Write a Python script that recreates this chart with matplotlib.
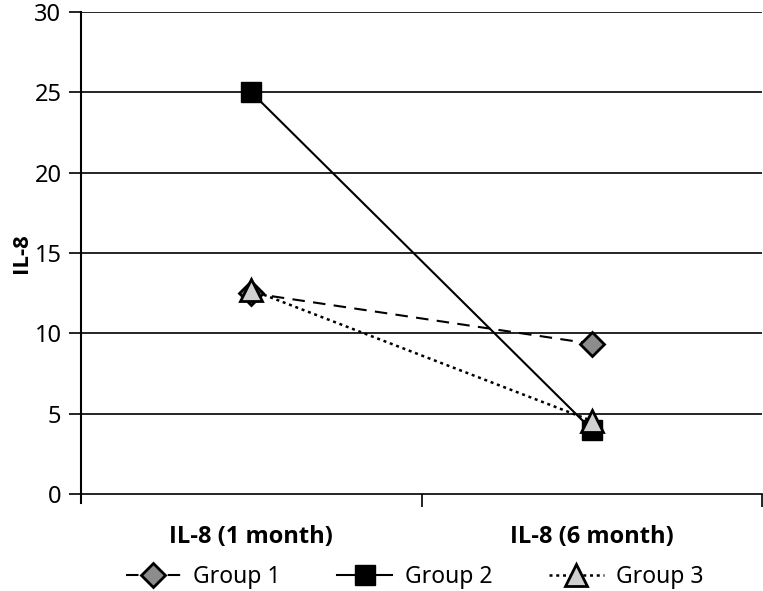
import numpy as np
import matplotlib
matplotlib.use('Agg')
import matplotlib.pyplot as plt

plt.rcParams['font.family'] = ['Noto Sans', 'DejaVu Sans']
bold_font = ['Open Sans', 'DejaVu Sans']

categories = ['IL-8 (1 month)', 'IL-8 (6 month)']
group1 = [12.5, 9.35]
group2 = [25.0, 4.0]
group3 = [12.7, 4.55]
yticks = [0, 5, 10, 15, 20, 25, 30]

fig = plt.figure(figsize=(7.63, 5.91), dpi=100)
ax = fig.add_axes([0.106, 0.164, 0.893, 0.816])

x = np.arange(len(categories))

for yv in yticks[1:]:
    ax.axhline(yv, color='black', lw=1.2, zorder=1)

ax.plot(x, group1, ls=(0, (6, 4)), color='black', lw=1.5, marker='D', ms=12,
        mfc='#8c8c8c', mec='black', mew=2, label='Group 1', zorder=3)
ax.plot(x, group2, ls='-', color='black', lw=1.5, marker='s', ms=15,
        mfc='black', mec='black', label='Group 2', zorder=4)
ax.plot(x, group3, ls=(0, (1.2, 1.5)), color='black', lw=1.8, marker='^', ms=16,
        mfc='#d0d0d0', mec='black', mew=2, label='Group 3', zorder=5)

ax.set_xlim(-0.5, 1.5)
ax.set_ylim(0, 30)
ax.set_yticks(yticks)
ax.set_xticks([0.5, 1.5])
ax.set_xticklabels([])
ax.tick_params(axis='x', length=9, width=1.2, direction='out')
ax.tick_params(axis='y', length=9, width=1.2, direction='out', labelsize=17, pad=5)
for i, c in enumerate(categories):
    ax.text(i, -1.9, c, ha='center', va='top', fontsize=17, fontweight='bold',
            family=bold_font)

ax.spines['top'].set_visible(False)
ax.spines['right'].set_visible(False)
ax.spines['left'].set_linewidth(1.5)
ax.spines['left'].set_bounds(-0.55, 30)
ax.spines['bottom'].set_linewidth(1.2)
ax.spines['bottom'].set_position(('data', 0))

ax.set_ylabel('IL-8', fontsize=16, fontweight='bold', family=bold_font, labelpad=2)

ax.legend(loc='upper center', bbox_to_anchor=(0.49, -0.105), ncol=3, frameon=False,
          fontsize=16.5, handlelength=2.4, columnspacing=2.45, handletextpad=0.55)

fig.savefig('out.png', dpi=100)
